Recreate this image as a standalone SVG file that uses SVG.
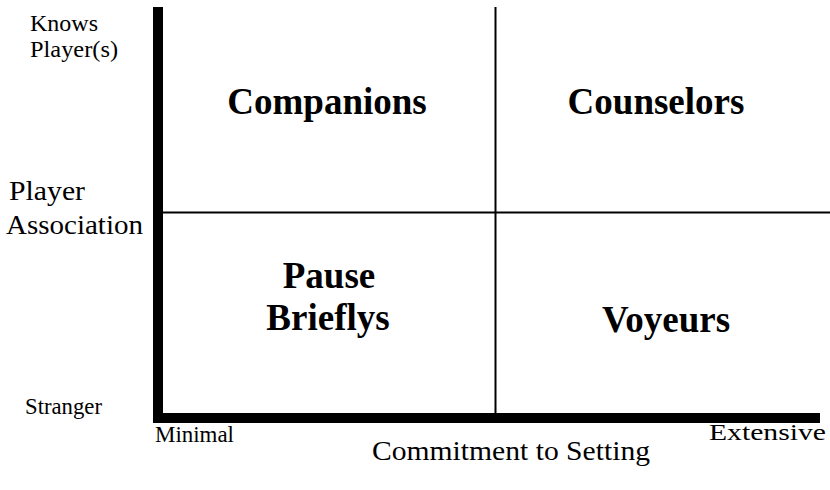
<svg xmlns="http://www.w3.org/2000/svg" width="830" height="490" viewBox="0 0 830 490">
<style>
.lbl{font-family:"Liberation Serif","Times New Roman",serif;fill:#000}
.q{font-family:"Liberation Serif","Times New Roman",serif;font-weight:bold;font-size:37px;fill:#000;text-anchor:middle}
.ln{stroke:#000;stroke-width:2;fill:none}
</style>
<rect width="830" height="490" fill="#fff"/>
<g id="axes">
<rect x="153" y="7" width="10" height="416" fill="#000"/>
<rect x="153" y="413" width="667" height="10" fill="#000"/>
</g>
<g id="connectors">
<line class="ln" x1="495.5" y1="7" x2="495.5" y2="414"/>
<line class="ln" x1="163" y1="212.5" x2="830" y2="212.5"/>
</g>
<g id="axis-labels">
<text class="lbl" x="30" y="31" font-size="24" textLength="68" lengthAdjust="spacingAndGlyphs">Knows</text>
<text class="lbl" x="30" y="57" font-size="24" textLength="88" lengthAdjust="spacingAndGlyphs">Player(s)</text>
<text class="lbl" x="9" y="200" font-size="28" textLength="76" lengthAdjust="spacingAndGlyphs">Player</text>
<text class="lbl" x="6" y="234" font-size="28" textLength="137" lengthAdjust="spacingAndGlyphs">Association</text>
<text class="lbl" x="25" y="414" font-size="23" textLength="77" lengthAdjust="spacingAndGlyphs">Stranger</text>
<text class="lbl" x="155" y="442" font-size="23" textLength="79" lengthAdjust="spacingAndGlyphs">Minimal</text>
<text class="lbl" x="709" y="440" font-size="23" textLength="117" lengthAdjust="spacingAndGlyphs">Extensive</text>
<text class="lbl" x="372" y="460" font-size="28" textLength="278" lengthAdjust="spacingAndGlyphs">Commitment to Setting</text>
</g>
<g id="companions"><text class="q" x="327" y="114">Companions</text></g>
<g id="counselors"><text class="q" x="656" y="114">Counselors</text></g>
<g id="pause-brieflys"><text class="q" x="329" y="288">Pause</text><text class="q" x="328" y="330">Brieflys</text></g>
<g id="voyeurs"><text class="q" x="666" y="332">Voyeurs</text></g>
</svg>
